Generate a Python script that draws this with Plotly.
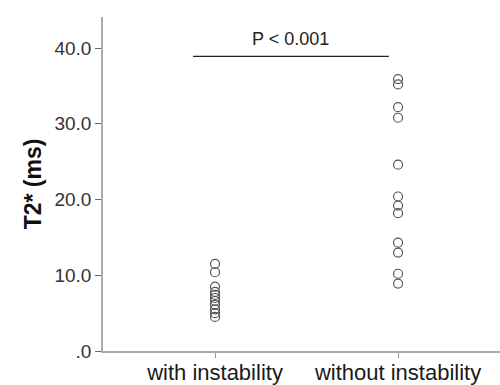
import plotly.graph_objects as go

categories = ["with instability", "without instability"]
with_instability = [11.5, 10.4, 8.5, 7.8, 7.4, 7.0, 6.6, 6.1, 5.5, 5.0, 4.5]
without_instability = [35.9, 35.2, 32.2, 30.8, 24.6, 20.4, 19.2, 18.2, 14.3, 13.0, 10.2, 8.9]
y_ticks = [0, 10, 20, 30, 40]
y_ticktext = [".0", "10.0", "20.0", "30.0", "40.0"]
p_text = "P < 0.001"
p_line_y = 38.9
p_line_x = [-0.12, 0.95]

FONT = "Liberation Sans, Arial"

fig = go.Figure()
for i, vals in enumerate([with_instability, without_instability]):
    fig.add_trace(go.Scatter(
        x=[i] * len(vals), y=vals, mode="markers",
        marker=dict(symbol="circle-open", size=9, color="#555555", line=dict(width=1.2)),
        showlegend=False, hoverinfo="y"))

fig.add_shape(type="line", xref="x", yref="y", x0=p_line_x[0], x1=p_line_x[1],
              y0=p_line_y, y1=p_line_y, line=dict(color="#222222", width=1.2))
fig.add_annotation(x=(p_line_x[0] + p_line_x[1]) / 2, y=p_line_y, text=p_text,
                   showarrow=False, yanchor="bottom", yshift=5,
                   font=dict(family=FONT, size=18, color="#222222"))

fig.update_layout(
    width=500, height=385,
    margin=dict(l=103, r=0, t=17, b=34),
    plot_bgcolor="white", paper_bgcolor="white",
    xaxis=dict(range=[-0.612, 1.557], tickvals=[0, 1], ticktext=categories,
               automargin=False, ticklabelstandoff=-4,
               showline=True, linecolor="#aaaaaa", linewidth=1.5, showgrid=False,
               zeroline=False, ticks="outside", ticklen=5, tickcolor="#999999",
               tickfont=dict(family=FONT, size=22, color="#1a1a1a")),
    yaxis=dict(range=[0, 44.1], tickvals=y_ticks, ticktext=y_ticktext,
               automargin=False,
               showline=True, linecolor="#aaaaaa", linewidth=1.5, showgrid=False,
               zeroline=False, ticks="outside", ticklen=6, tickcolor="#666666",
               tickfont=dict(family=FONT, size=19, color="#333333"),
               title=dict(text="<b>T2* (ms)</b>", standoff=6,
                          font=dict(family=FONT, size=23, color="#111111"))),
)

fig.write_html("out.html")
